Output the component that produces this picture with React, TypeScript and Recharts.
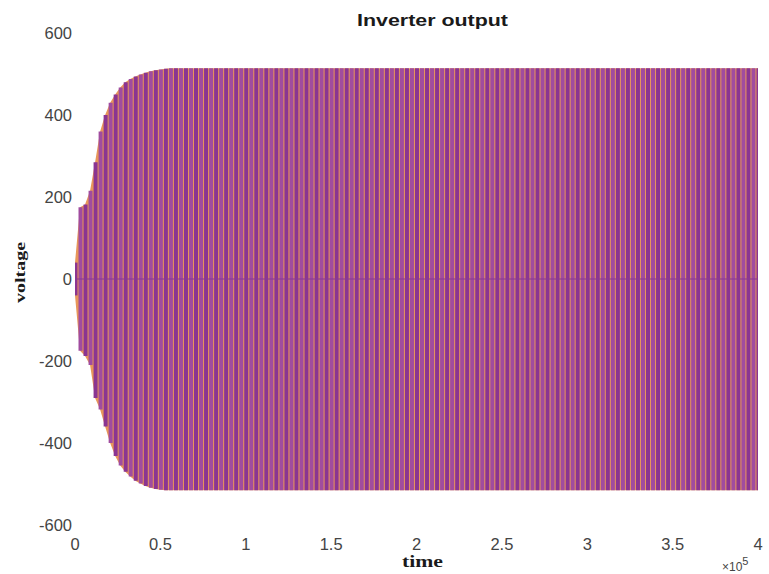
import { ComposedChart, Bar, Area, Cell, XAxis, YAxis, ReferenceLine } from "recharts";

// envelope of the inverter output, one value per visible stripe
const upper = [
  40, 175, 182, 215, 285, 360, 400, 430, 450, 467, 480, 488, 494, 499, 503, 507, 509, 511, 513, 514,
  514, 514, 514, 514, 514, 514, 514, 514, 514, 514, 514, 514, 514, 514, 514, 514, 514, 514, 514, 514,
  514, 514, 514, 514, 514, 514, 514, 514, 514, 514, 514, 514, 514, 514, 514, 514, 514, 514, 514, 514,
  514, 514, 514, 514, 514, 514, 514, 514, 514, 514, 514, 514, 514, 514, 514, 514, 514, 514, 514, 514,
  514, 514, 514, 514, 514, 514, 514, 514, 514, 514, 514, 514, 514, 514, 514, 514, 514, 514, 514, 514,
  514, 514, 514, 514, 514, 514, 514, 514, 514, 514, 514, 514, 514, 514, 514, 514, 514, 514, 514, 514,
  514, 514, 514, 514, 514, 514, 514, 514, 514, 514, 514, 514, 514, 514, 514, 514, 514,
];
const lower = [
  -40, -175, -188, -210, -290, -318, -360, -400, -432, -455, -470, -482, -492, -499, -505, -509, -512, -514, -515, -515,
  -515, -515, -515, -515, -515, -515, -515, -515, -515, -515, -515, -515, -515, -515, -515, -515, -515, -515, -515, -515,
  -515, -515, -515, -515, -515, -515, -515, -515, -515, -515, -515, -515, -515, -515, -515, -515, -515, -515, -515, -515,
  -515, -515, -515, -515, -515, -515, -515, -515, -515, -515, -515, -515, -515, -515, -515, -515, -515, -515, -515, -515,
  -515, -515, -515, -515, -515, -515, -515, -515, -515, -515, -515, -515, -515, -515, -515, -515, -515, -515, -515, -515,
  -515, -515, -515, -515, -515, -515, -515, -515, -515, -515, -515, -515, -515, -515, -515, -515, -515, -515, -515, -515,
  -515, -515, -515, -515, -515, -515, -515, -515, -515, -515, -515, -515, -515, -515, -515, -515, -515,
];
const xTicks = [0, 0.5, 1, 1.5, 2, 2.5, 3, 3.5, 4];
const yTicks = [-600, -400, -200, 0, 200, 400, 600];
const tEnd = 4; // x 10^5

const data = upper.map((u, i) => ({
  time: (i * tEnd) / (upper.length - 1),
  range: [lower[i], u],
}));

const stripeColors = ["#8a3592", "#a04c9f"];

const tickStyle = { fontSize: 16.5, fill: "#444", fontFamily: "Liberation Sans, Arial, sans-serif" };

export default function App() {
  return (
    <div style={{ position: "relative", width: 769, height: 574, background: "#fff" }}>
      <style>{"body{margin:0}"}</style>
      <ComposedChart
        width={769}
        height={574}
        data={data}
        margin={{ top: 33, right: 11, bottom: 0, left: 0 }}
      >
        <XAxis
          dataKey="time"
          type="number"
          domain={[0, 4]}
          ticks={xTicks}
          axisLine={false}
          tickLine={false}
          tickSize={10}
          tickMargin={3}
          height={49}
          tick={tickStyle}
          allowDataOverflow
        />
        <YAxis
          type="number"
          domain={[-600, 600]}
          ticks={yTicks}
          axisLine={false}
          tickLine={false}
          tickSize={0}
          tickMargin={3}
          width={75}
          tick={tickStyle}
          allowDataOverflow
        />
        <Area
          dataKey="range"
          type="linear"
          stroke="none"
          fill="#e8965a"
          fillOpacity={1}
          isAnimationActive={false}
        />
        <Bar dataKey="range" barSize={4} isAnimationActive={false}>
          {data.map((_, i) => (
            <Cell key={i} fill={stripeColors[i % 2]} />
          ))}
        </Bar>
        <ReferenceLine y={0} stroke="#8a3a95" strokeWidth={1.5} strokeOpacity={0.7} />
      </ComposedChart>
      <svg
        width={769}
        height={574}
        style={{ position: "absolute", left: 0, top: 0, pointerEvents: "none" }}
      >
        <text
          x={357}
          y={26}
          textLength={151}
          lengthAdjust="spacingAndGlyphs"
          fontFamily="Liberation Sans, Arial, sans-serif"
          fontWeight="bold"
          fontSize={17}
          fill="#1a1a1a"
        >
          Inverter output
        </text>
        <text
          x={402}
          y={567}
          textLength={41}
          lengthAdjust="spacingAndGlyphs"
          fontFamily="Liberation Serif, Times New Roman, serif"
          fontWeight="bold"
          fontSize={17}
          fill="#1a1a1a"
        >
          time
        </text>
        <text
          transform="translate(25, 303) rotate(-90)"
          textLength={61}
          lengthAdjust="spacingAndGlyphs"
          fontFamily="Liberation Serif, Times New Roman, serif"
          fontWeight="bold"
          fontSize={15}
          fill="#1a1a1a"
        >
          voltage
        </text>
        <text
          x={722}
          y={571}
          fontFamily="Liberation Sans, Arial, sans-serif"
          fontSize={12}
          fill="#444"
        >
          ×10
          <tspan dy={-6} fontSize={11}>5</tspan>
        </text>
      </svg>
    </div>
  );
}
